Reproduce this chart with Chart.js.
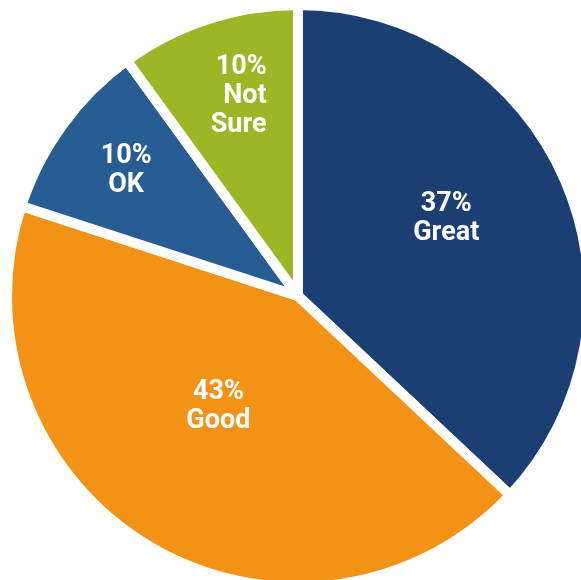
<!DOCTYPE html>
<html>
<head>
<meta charset="utf-8">
<script src="https://cdn.jsdelivr.net/npm/chart.js@4/dist/chart.umd.min.js"></script>
<style>
  html, body { margin: 0; padding: 0; background: #ffffff; overflow: hidden; }
  #wrap { width: 581px; height: 580px; }
</style>
</head>
<body>
<div id="wrap"><canvas id="pieChart" width="581" height="580"></canvas></div>
<script>
// data
const categories = ["Great", "Good", "OK", "Not Sure"];
const shares = [37, 43, 10, 10];
const sliceColors = ["#1c3f73", "#f29318", "#285d94", "#9bb726"];

// where each label sits: fraction of radius, small turn (deg) off the slice middle
const labelRadius = [0.574, 0.47, 0.73, 0.715];
const labelTurn = [-4, 5, 0, 2];
const labelAlign = ["center", "center", "center", "right"];
const labelShift = [0, 0, 0, 26];

const sliceLabels = {
    id: 'sliceLabels',
    afterDatasetsDraw: (chart) => {
        const {ctx} = chart;
        const meta = chart.getDatasetMeta(0);
        ctx.save();
        ctx.fillStyle = '#ffffff';
        ctx.font = 'bold 27px Roboto';
        ctx.textBaseline = 'middle';
        meta.data.forEach((arc, i) => {
            const p = arc.getProps(['x', 'y', 'startAngle', 'endAngle', 'outerRadius'], true);
            const mid = (p.startAngle + p.endAngle) / 2 + labelTurn[i] * Math.PI / 180;
            const r = p.outerRadius * labelRadius[i];
            const cx = p.x + Math.cos(mid) * r;
            const cy = p.y + Math.sin(mid) * r;
            const lines = [shares[i] + '%'].concat(categories[i].split(' '));
            const lh = 29;
            const top = cy - (lines.length - 1) * lh / 2;
            ctx.textAlign = labelAlign[i];
            lines.forEach((t, k) => {
                ctx.fillText(t, cx + labelShift[i], top + k * lh);
            });
        });
        ctx.restore();
    }
};

const config = {
    type: 'pie',
    data: {
        labels: categories,
        datasets: [{
            data: shares,
            backgroundColor: sliceColors,
            borderColor: '#ffffff',
            borderWidth: 10,
            clip: false
        }]
    },
    options: {
        responsive: false,
        animation: false,
        radius: 291,
        layout: {
            padding: { left: 15, top: 12, right: 0, bottom: 0 }
        },
        plugins: {
            legend: { display: false },
            tooltip: { enabled: false }
        }
    },
    plugins: [sliceLabels]
};

const myChart = new Chart(document.getElementById('pieChart'), config);
</script>
</body>
</html>
